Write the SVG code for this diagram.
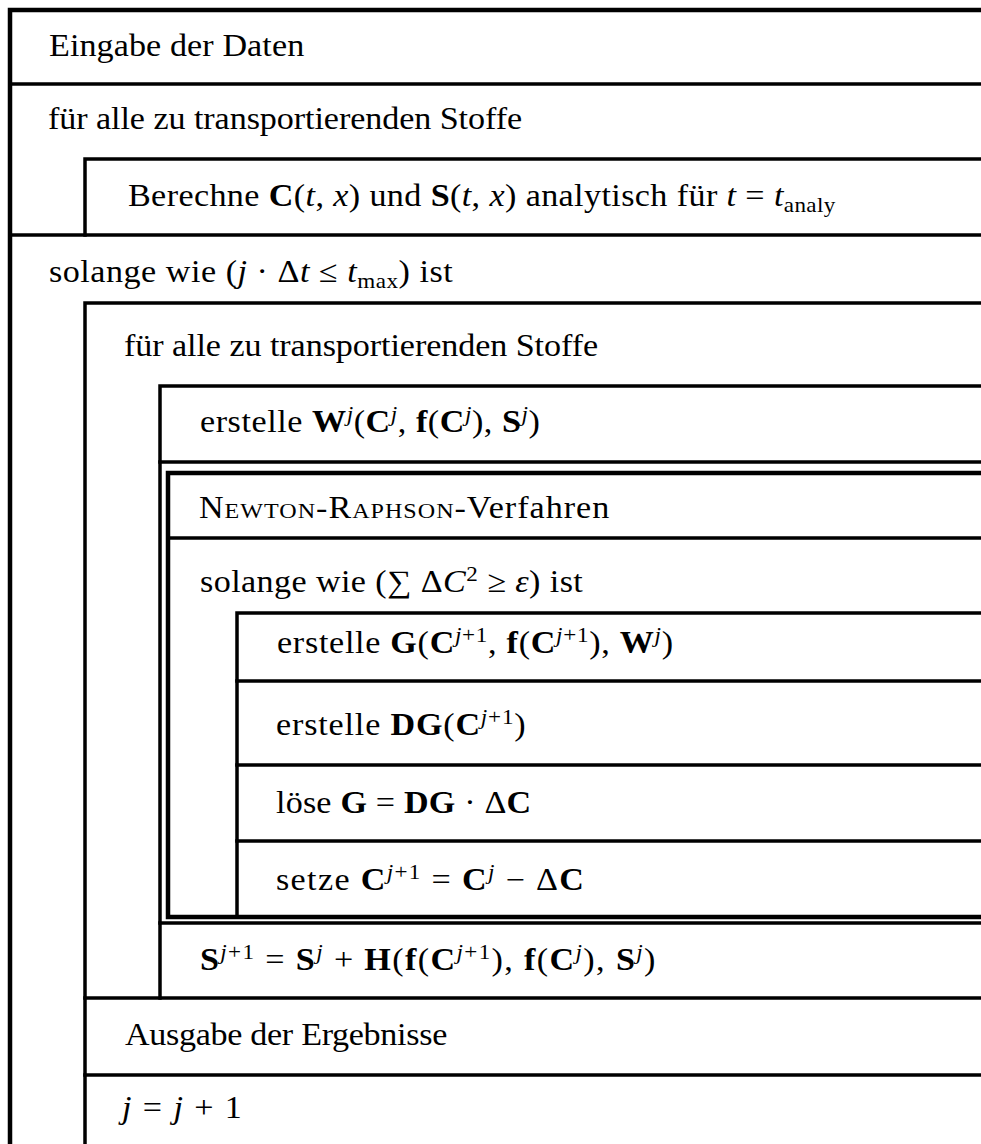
<svg xmlns="http://www.w3.org/2000/svg" width="981" height="1144" viewBox="0 0 981 1144">
<style>
.t{font-family:"Liberation Serif","Times New Roman",serif;font-size:31px;fill:#000}
.b{font-weight:bold}
.i{font-style:italic}
.sc{font-variant:small-caps}
.s{font-size:21px}
.ln{stroke:#000;stroke-width:3.5;fill:none;stroke-linecap:square}
.fr{stroke:#000;stroke-width:4.5;fill:none;stroke-linecap:square}
</style>
<rect width="981" height="1144" fill="#fff"/>
<g id="frame">
<path class="fr" d="M10 10H983M10 10V1146"/>
</g>
<g id="n-eingabe">
<path class="ln" d="M10 84H983"/>
<text class="t" transform="translate(49 56) scale(1.1 1)" textLength="232" lengthAdjust="spacing">Eingabe der Daten</text>
</g>
<g id="n-loop1">
<text class="t" transform="translate(48 129) scale(1.1 1)" textLength="431" lengthAdjust="spacing">für alle zu transportierenden Stoffe</text>
<path class="ln" d="M10 235H983"/>
</g>
<g id="n-berechne">
<path class="ln" d="M85 159H983M85 159V235"/>
<text class="t" transform="translate(128 206) scale(1.1 1)" textLength="643" lengthAdjust="spacing">Berechne <tspan class="b">C</tspan>(<tspan class="i">t</tspan>, <tspan class="i">x</tspan>) und <tspan class="b">S</tspan>(<tspan class="i">t</tspan>, <tspan class="i">x</tspan>) analytisch für <tspan class="i">t</tspan> = <tspan class="i">t</tspan><tspan class="s" dy="6">analy</tspan></text>
</g>
<g id="n-loop2">
<text class="t" transform="translate(49 282) scale(1.1 1)" textLength="367" lengthAdjust="spacing">solange wie (<tspan class="i">j</tspan> · Δ<tspan class="i">t</tspan> ≤ <tspan class="i">t</tspan><tspan class="s" dy="6">max</tspan><tspan dy="-6">) ist</tspan></text>
<path class="ln" d="M85 303H983M85 303V1146"/>
</g>
<g id="n-loop3">
<text class="t" transform="translate(124 356) scale(1.1 1)" textLength="431" lengthAdjust="spacing">für alle zu transportierenden Stoffe</text>
<path class="ln" d="M160 386H983M160 386V998"/>
</g>
<g id="n-erstelleW">
<text class="t" transform="translate(200 432) scale(1.1 1)" textLength="309" lengthAdjust="spacing">erstelle <tspan class="b">W</tspan><tspan class="s i" dy="-11">j</tspan><tspan dy="11">(</tspan><tspan class="b">C</tspan><tspan class="s i" dy="-11">j</tspan><tspan dy="11">, </tspan><tspan class="b">f</tspan>(<tspan class="b">C</tspan><tspan class="s i" dy="-11">j</tspan><tspan dy="11">), </tspan><tspan class="b">S</tspan><tspan class="s i" dy="-11">j</tspan><tspan dy="11">)</tspan></text>
<path class="ln" d="M160 462H983"/>
</g>
<g id="n-newton">
<path class="fr" d="M983 473H168V917H983"/>
<text class="t" transform="translate(199 518) scale(1.1 1)" textLength="373" lengthAdjust="spacing"><tspan class="sc">Newton-Raphson</tspan>-Verfahren</text>
<path class="ln" d="M168 538H983"/>
</g>
<g id="n-loop4">
<text class="t" transform="translate(200 592) scale(1.1 1)" textLength="348" lengthAdjust="spacing">solange wie (∑ Δ<tspan class="i">C</tspan><tspan class="s" dy="-11">2</tspan><tspan dy="11"> ≥ </tspan><tspan class="i">ε</tspan>) ist</text>
<path class="ln" d="M237 613H983M237 613V917"/>
</g>
<g id="n-erstelleG">
<text class="t" transform="translate(277 653) scale(1.1 1)" textLength="360" lengthAdjust="spacing">erstelle <tspan class="b">G</tspan>(<tspan class="b">C</tspan><tspan class="s" dy="-11"><tspan class="i">j</tspan>+1</tspan><tspan dy="11">, </tspan><tspan class="b">f</tspan>(<tspan class="b">C</tspan><tspan class="s" dy="-11"><tspan class="i">j</tspan>+1</tspan><tspan dy="11">), </tspan><tspan class="b">W</tspan><tspan class="s i" dy="-11">j</tspan><tspan dy="11">)</tspan></text>
<path class="ln" d="M237 681H983"/>
</g>
<g id="n-erstelleDG">
<text class="t" transform="translate(276 735) scale(1.1 1)" textLength="227" lengthAdjust="spacing">erstelle <tspan class="b">DG</tspan>(<tspan class="b">C</tspan><tspan class="s" dy="-11"><tspan class="i">j</tspan>+1</tspan><tspan dy="11">)</tspan></text>
<path class="ln" d="M237 765H983"/>
</g>
<g id="n-loese">
<text class="t" transform="translate(276 813) scale(1.1 1)" textLength="232" lengthAdjust="spacing">löse <tspan class="b">G</tspan> = <tspan class="b">DG</tspan> · Δ<tspan class="b">C</tspan></text>
<path class="ln" d="M237 841H983"/>
</g>
<g id="n-setze">
<text class="t" transform="translate(276 890) scale(1.1 1)" textLength="280" lengthAdjust="spacing">setze <tspan class="b">C</tspan><tspan class="s" dy="-11"><tspan class="i">j</tspan>+1</tspan><tspan dy="11"> = </tspan><tspan class="b">C</tspan><tspan class="s i" dy="-11">j</tspan><tspan dy="11"> − Δ</tspan><tspan class="b">C</tspan></text>
</g>
<g id="n-updateS">
<path class="ln" d="M160 923H983"/>
<text class="t" transform="translate(200 970) scale(1.1 1)" textLength="414" lengthAdjust="spacing"><tspan class="b">S</tspan><tspan class="s" dy="-11"><tspan class="i">j</tspan>+1</tspan><tspan dy="11"> = </tspan><tspan class="b">S</tspan><tspan class="s i" dy="-11">j</tspan><tspan dy="11"> + </tspan><tspan class="b">H</tspan>(<tspan class="b">f</tspan>(<tspan class="b">C</tspan><tspan class="s" dy="-11"><tspan class="i">j</tspan>+1</tspan><tspan dy="11">), </tspan><tspan class="b">f</tspan>(<tspan class="b">C</tspan><tspan class="s i" dy="-11">j</tspan><tspan dy="11">), </tspan><tspan class="b">S</tspan><tspan class="s i" dy="-11">j</tspan><tspan dy="11">)</tspan></text>
<path class="ln" d="M85 998H983"/>
</g>
<g id="n-ausgabe">
<text class="t" transform="translate(125 1045) scale(1.1 1)" textLength="293" lengthAdjust="spacing">Ausgabe der Ergebnisse</text>
<path class="ln" d="M85 1075H983"/>
</g>
<g id="n-increment">
<text class="t" transform="translate(122 1118) scale(1.1 1)" textLength="109" lengthAdjust="spacing"><tspan class="i">j</tspan> = <tspan class="i">j</tspan> + 1</text>
</g>
<g id="connectors"></g>
</svg>
